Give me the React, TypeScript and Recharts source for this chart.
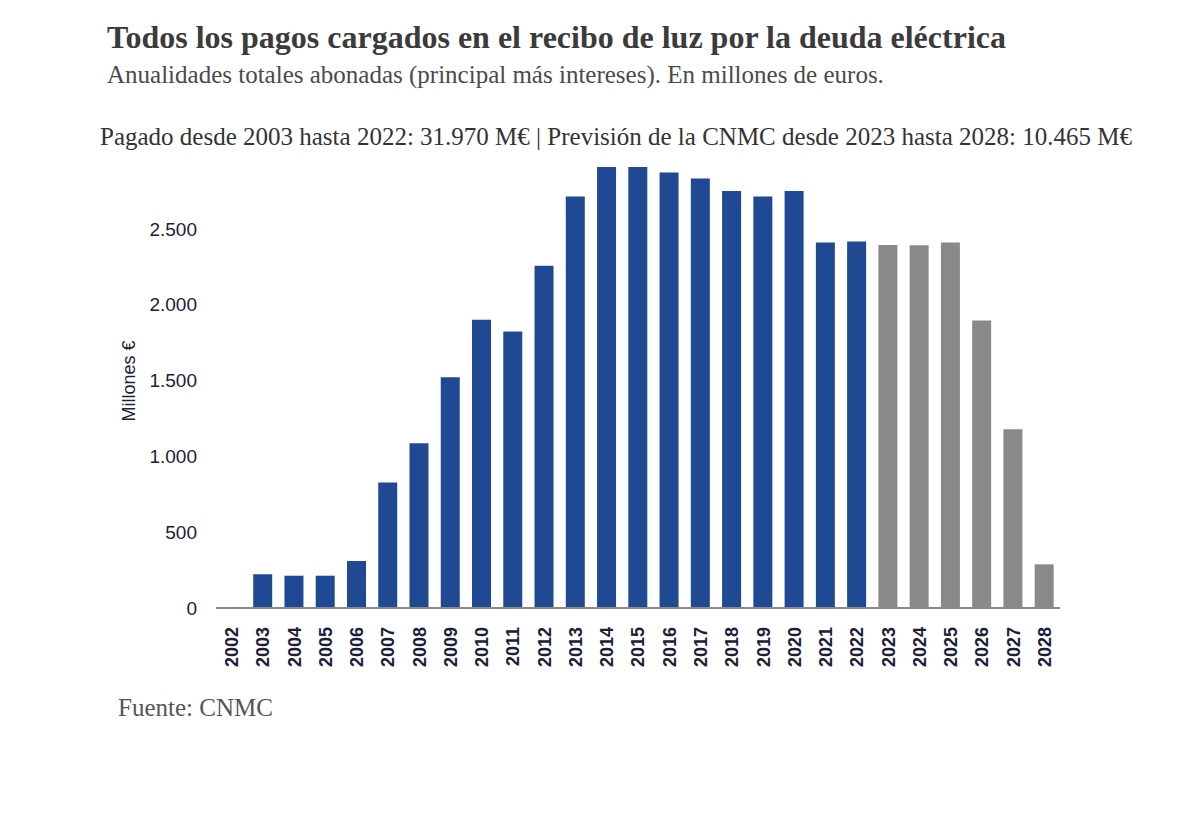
import { BarChart, Bar, XAxis, YAxis, Cell } from "recharts";

// Annual payments, millions of euros
const years = [
  "2002", "2003", "2004", "2005", "2006", "2007", "2008", "2009", "2010",
  "2011", "2012", "2013", "2014", "2015", "2016", "2017", "2018", "2019",
  "2020", "2021", "2022", "2023", "2024", "2025", "2026", "2027", "2028",
];
const paidValues = [
  0, 222, 213, 213, 310, 827, 1086, 1522, 1900, 1823, 2256, 2713, 2907,
  2907, 2871, 2832, 2749, 2713, 2749, 2410, 2416,
];
const forecastValues = [2394, 2392, 2410, 1895, 1179, 288];
const yTicks = [0, 500, 1000, 1500, 2000, 2500];

const PAID_COLOR = "#1f4a93";
const FORECAST_COLOR = "#898989";
const LABEL_COLOR = "#1c2038";

const data = years.map((year, i) => ({
  year,
  value: i < paidValues.length ? paidValues[i] : forecastValues[i - paidValues.length],
  forecast: i >= paidValues.length,
}));

const formatThousands = (v: number) => v.toLocaleString("es-ES", { useGrouping: "always" } as any);

const YearTick = ({ x, y, payload }: any) => (
  <g transform={`translate(${x},${y})`}>
    <text
      transform="rotate(-90)"
      x={0}
      y={0}
      dy="0.36em"
      textAnchor="end"
      fill={LABEL_COLOR}
      fontFamily="'Liberation Sans', Arial, sans-serif"
      fontSize={18}
      fontWeight={700}
    >
      {payload.value}
    </text>
  </g>
);

const AxisTitle = () => (
  <text
    x={129}
    y={381}
    transform="rotate(-90 129 381)"
    textAnchor="middle"
    dominantBaseline="central"
    fill={LABEL_COLOR}
    fontFamily="'Liberation Sans', Arial, sans-serif"
    fontSize={18}
  >
    Millones €
  </text>
);

const serif = "'Liberation Serif', 'Times New Roman', serif";

export default function App() {
  return (
    <div style={{ position: "absolute", left: 0, top: 0, width: 1200, height: 825, background: "#fff" }}>
      <div
        style={{
          position: "absolute", left: 107, top: 21, fontFamily: serif, fontSize: 32,
          fontWeight: 700, lineHeight: 1, color: "#3b3b3b", whiteSpace: "nowrap",
        }}
      >
        Todos los pagos cargados en el recibo de luz por la deuda eléctrica
      </div>
      <div
        style={{
          position: "absolute", left: 107, top: 62, fontFamily: serif, fontSize: 25,
          lineHeight: 1, color: "#4a4a4a", whiteSpace: "nowrap",
        }}
      >
        Anualidades totales abonadas (principal más intereses). En millones de euros.
      </div>
      <div
        style={{
          position: "absolute", left: 0, width: 1232, top: 124, textAlign: "center",
          fontFamily: serif, fontSize: 25, lineHeight: 1, color: "#333", whiteSpace: "nowrap",
        }}
      >
        Pagado desde 2003 hasta 2022: 31.970 M€ | Previsión de la CNMC desde 2023 hasta 2028: 10.465 M€
      </div>

      <div style={{ position: "absolute", left: 0, top: 0 }}>
        <BarChart
          width={1200}
          height={700}
          data={data}
          margin={{ top: 153, right: 140, left: 100, bottom: 22 }}
          barCategoryGap="19%"
        >
          <XAxis
            dataKey="year"
            interval={0}
            height={70}
            tickLine={false}
            axisLine={{ stroke: "#8a8a8a", strokeWidth: 2 }}
            tick={<YearTick />}
            tickMargin={13}
          />
          <YAxis
            width={116}
            domain={[0, 3000]}
            ticks={yTicks}
            axisLine={false}
            tickLine={false}
            tickSize={0}
            tickMargin={19}
            tickFormatter={formatThousands}
            tick={{ fill: LABEL_COLOR, fontSize: 19, fontFamily: "'Liberation Sans', Arial, sans-serif" }}
            label={{ content: <AxisTitle /> }}
          />
          <Bar dataKey="value" isAnimationActive={false}>
            {data.map((d) => (
              <Cell key={d.year} fill={d.forecast ? FORECAST_COLOR : PAID_COLOR} />
            ))}
          </Bar>
        </BarChart>
      </div>

      <div
        style={{
          position: "absolute", left: 118, top: 695, fontFamily: serif, fontSize: 25,
          lineHeight: 1, color: "#555", whiteSpace: "nowrap",
        }}
      >
        Fuente: CNMC
      </div>
    </div>
  );
}
